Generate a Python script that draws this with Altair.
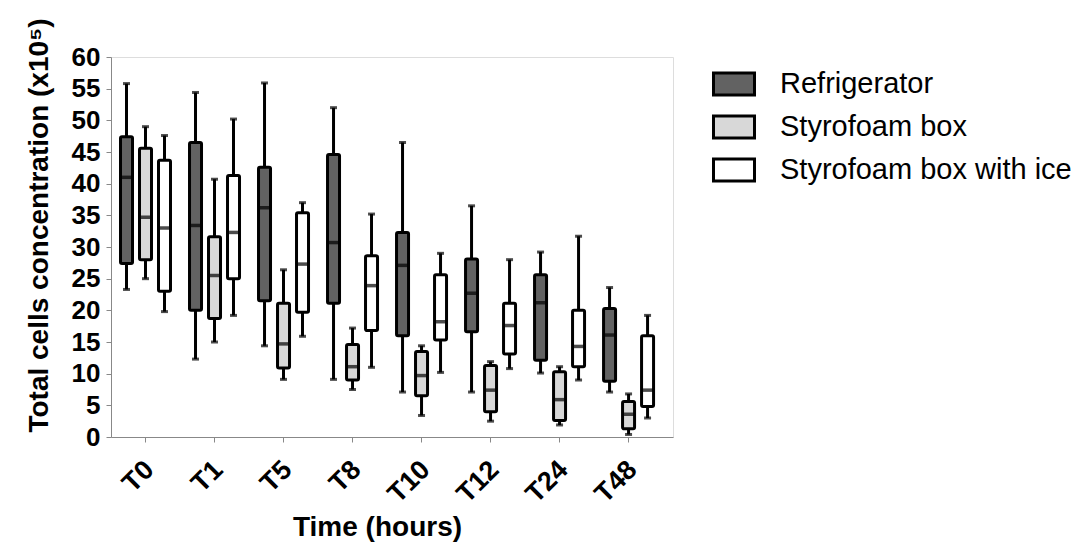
import altair as alt
import pandas as pd

times = ["T0", "T1", "T5", "T8", "T10", "T12", "T24", "T48"]
series = ["Refrigerator", "Styrofoam box", "Styrofoam box with ice"]
colors = ["#626262", "#d8d8d8", "#ffffff"]

ref_min = [23.3, 12.3, 14.4, 9.1, 7.1, 7.1, 10.1, 7.1]
ref_q1 = [27.4, 20.0, 21.5, 21.1, 16.0, 16.6, 12.1, 8.8]
ref_med = [41.0, 33.4, 36.2, 30.7, 27.1, 22.7, 21.2, 16.1]
ref_q3 = [47.4, 46.5, 42.6, 44.6, 32.3, 28.1, 25.6, 20.3]
ref_max = [55.8, 54.4, 55.9, 52.0, 46.5, 36.5, 29.2, 23.6]

sty_min = [25.0, 15.0, 9.1, 7.5, 3.4, 2.5, 1.9, 0.4]
sty_q1 = [28.0, 18.7, 10.9, 9.0, 6.5, 4.0, 2.6, 1.3]
sty_med = [34.7, 25.5, 14.7, 11.1, 9.7, 7.4, 5.9, 3.6]
sty_q3 = [45.6, 31.6, 21.1, 14.6, 13.5, 11.3, 10.3, 5.6]
sty_max = [49.0, 40.7, 26.4, 17.2, 14.4, 11.9, 11.1, 6.8]

ice_min = [19.8, 19.2, 15.9, 11.0, 10.2, 10.8, 9.0, 3.0]
ice_q1 = [23.0, 25.0, 19.7, 16.8, 15.3, 13.1, 11.1, 4.8]
ice_med = [33.0, 32.3, 27.3, 23.9, 18.2, 17.6, 14.3, 7.4]
ice_q3 = [43.7, 41.3, 35.4, 28.6, 25.6, 21.1, 20.0, 16.0]
ice_max = [47.6, 50.2, 37.0, 35.2, 29.0, 28.0, 31.7, 19.2]

y_ticks = [0, 5, 10, 15, 20, 25, 30, 35, 40, 45, 50, 55, 60]

stats = {
    "Refrigerator": (ref_min, ref_q1, ref_med, ref_q3, ref_max),
    "Styrofoam box": (sty_min, sty_q1, sty_med, sty_q3, sty_max),
    "Styrofoam box with ice": (ice_min, ice_q1, ice_med, ice_q3, ice_max),
}

rows = []
for s in series:
    mn, q1, md, q3, mx = stats[s]
    for i, t in enumerate(times):
        rows.append({"time": t, "series": s, "min": mn[i], "q1": q1[i],
                     "med": md[i], "q3": q3[i], "max": mx[i]})
df = pd.DataFrame(rows)

FONT = "Liberation Sans"

x = alt.X("time:N", sort=times,
          scale=alt.Scale(paddingInner=0, paddingOuter=0.072, align=0),
          axis=alt.Axis(title="Time (hours)", labelAngle=-45, labelFontSize=27,
                        labelFontWeight="bold", labelPadding=14, labelOffset=-5,
                        titleFontSize=28, titleFontWeight="bold", titlePadding=6,
                        titleX=266, grid=False))
xo = alt.XOffset("series:N", sort=series,
                 scale=alt.Scale(paddingInner=0, paddingOuter=0.316))
yscale = alt.Scale(domain=[0, 60], nice=False, zero=True)
yaxis = alt.Axis(title="Total cells concentration (x10⁵)", values=y_ticks,
                 labelOverlap=False, grid=False,
                 labelFontSize=26, labelFontWeight="bold", labelPadding=6,
                 titleFontSize=28, titleFontWeight="bold", titlePadding=18, titleY=168)


def yenc(field):
    return alt.Y(field, scale=yscale, axis=yaxis)


base = alt.Chart(df)

whisker = base.mark_rule(color="black", strokeWidth=3).encode(
    x=x, xOffset=xo, y=yenc("min:Q"), y2="max:Q")
cap_lo = base.mark_tick(color="black", size=7, thickness=3).encode(
    x=x, xOffset=xo, y=yenc("min:Q"))
cap_hi = base.mark_tick(color="black", size=7, thickness=3).encode(
    x=x, xOffset=xo, y=yenc("max:Q"))
box = base.mark_bar(stroke="black", strokeWidth=3, width=12, cornerRadius=1.5).encode(
    x=x, xOffset=xo,
    y=yenc("q1:Q"),
    y2="q3:Q",
    fill=alt.Fill("series:N", sort=series,
                  scale=alt.Scale(domain=series, range=colors),
                  legend=alt.Legend(title=None, orient="none", legendX=601, legendY=5,
                                    symbolType="M-1,-0.54H1V0.54H-1Z", symbolSize=1681,
                                    symbolStrokeColor="black", symbolStrokeWidth=3,
                                    symbolOpacity=1, labelLimit=0,
                                    labelFont=FONT, labelFontSize=29, labelColor="black",
                                    labelOffset=24, rowPadding=3)),
)
median = base.mark_tick(color="black", size=13, thickness=3.5).encode(
    x=x, xOffset=xo, y=yenc("med:Q"))

chart = alt.layer(whisker, cap_lo, cap_hi, box, median).properties(
    width=562, height=380,
    autosize=alt.AutoSizeParams(type="none"),
    padding={"left": 103, "top": 49, "right": 405, "bottom": 106},
).configure_view(stroke=None).configure_axis(
    domainColor="black", domainWidth=3, tickColor="black", tickWidth=3, tickSize=8,
    labelColor="black", titleColor="black", labelFont=FONT, titleFont=FONT, grid=False,
).configure(background="white")

chart.save("out.html", embed_options={"renderer": "svg", "actions": False})
